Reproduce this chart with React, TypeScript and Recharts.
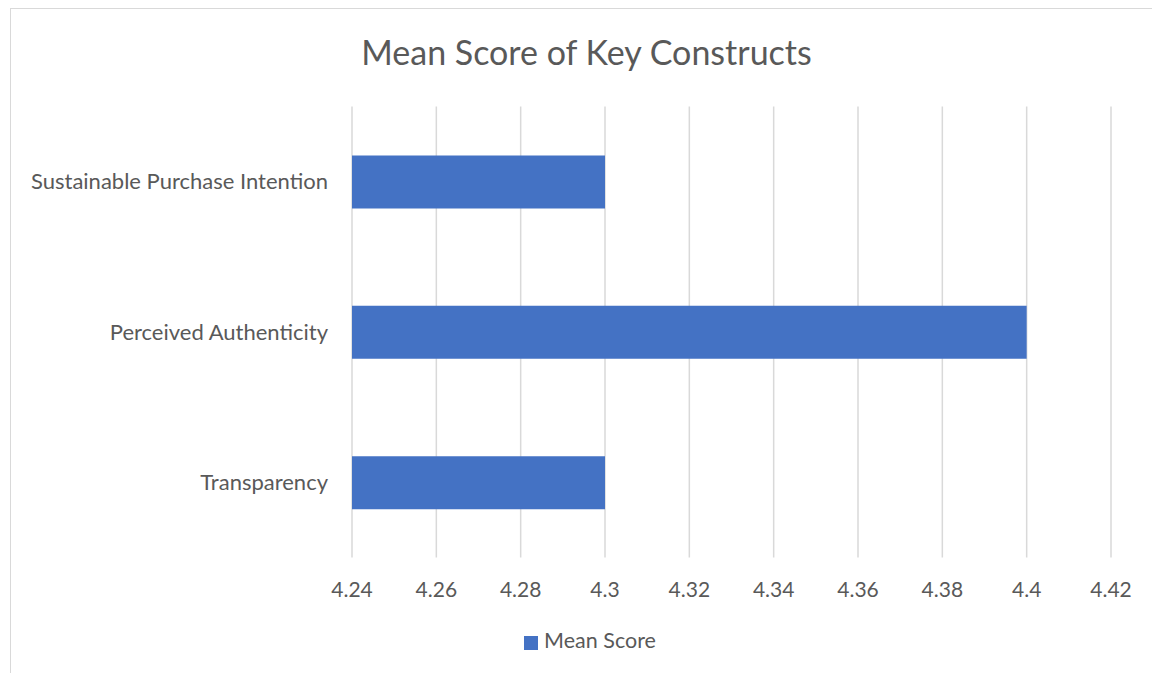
import React from "react";
import { BarChart, Bar, XAxis, YAxis, CartesianGrid, Legend } from "recharts";

const constructs = [
  "Sustainable Purchase Intention",
  "Perceived Authenticity",
  "Transparency",
];
const meanScores = [4.3, 4.4, 4.3];
const xTicks = [4.24, 4.26, 4.28, 4.3, 4.32, 4.34, 4.36, 4.38, 4.4, 4.42];

const data = constructs.map((name, i) => ({ name, score: meanScores[i] }));

const font = "Lato, 'Open Sans', sans-serif";
const textColor = "#595959";

const App = () => {
  return (
    <div
      style={{
        position: "fixed",
        left: 10,
        top: 8,
        width: 1142,
        height: 665,
        boxSizing: "border-box",
        overflow: "hidden",
        border: "1px solid #d9d9d9",
        borderRight: "none",
        borderBottom: "none",
        background: "#fff",
        fontFamily: font,
      }}
    >
      <div
        style={{
          position: "absolute",
          top: 22,
          left: 0,
          width: 1151,
          textAlign: "center",
          fontSize: 34,
          color: textColor,
        }}
      >
        Mean Score of Key Constructs
      </div>
      <BarChart
        width={1158}
        height={664}
        data={data}
        layout="vertical"
        margin={{ top: 97.5, right: 58, left: 11, bottom: 29.5 }}
      >
        <CartesianGrid horizontal={false} stroke="#d9d9d9" strokeWidth={1.5} />
        <XAxis
          type="number"
          domain={[4.24, 4.42]}
          ticks={xTicks}
          interval={0}
          axisLine={false}
          tickLine={false}
          tickMargin={19}
          height={60}
          tickFormatter={(v: number) => String(Number(v.toFixed(2)))}
          tick={{ fill: textColor, fontSize: 21, fontFamily: font }}
          allowDataOverflow
        />
        <YAxis
          type="category"
          dataKey="name"
          width={330}
          axisLine={false}
          tickLine={false}
          tickMargin={18}
          tick={{ fill: textColor, fontSize: 22, fontFamily: font }}
        />
        <Legend
          verticalAlign="bottom"
          iconType="square"
          iconSize={14}
          wrapperStyle={{
            fontSize: 21.5,
            fontFamily: font,
            color: textColor,
            bottom: 20,
            left: 0,
            width: 1168,
          }}
          formatter={(value) => <span style={{ color: textColor, marginLeft: 2 }}>{value}</span>}
        />
        <Bar
          dataKey="score"
          name="Mean Score"
          fill="#4472C4"
          barSize={53}
          isAnimationActive={false}
        />
      </BarChart>
    </div>
  );
};

export default App;
